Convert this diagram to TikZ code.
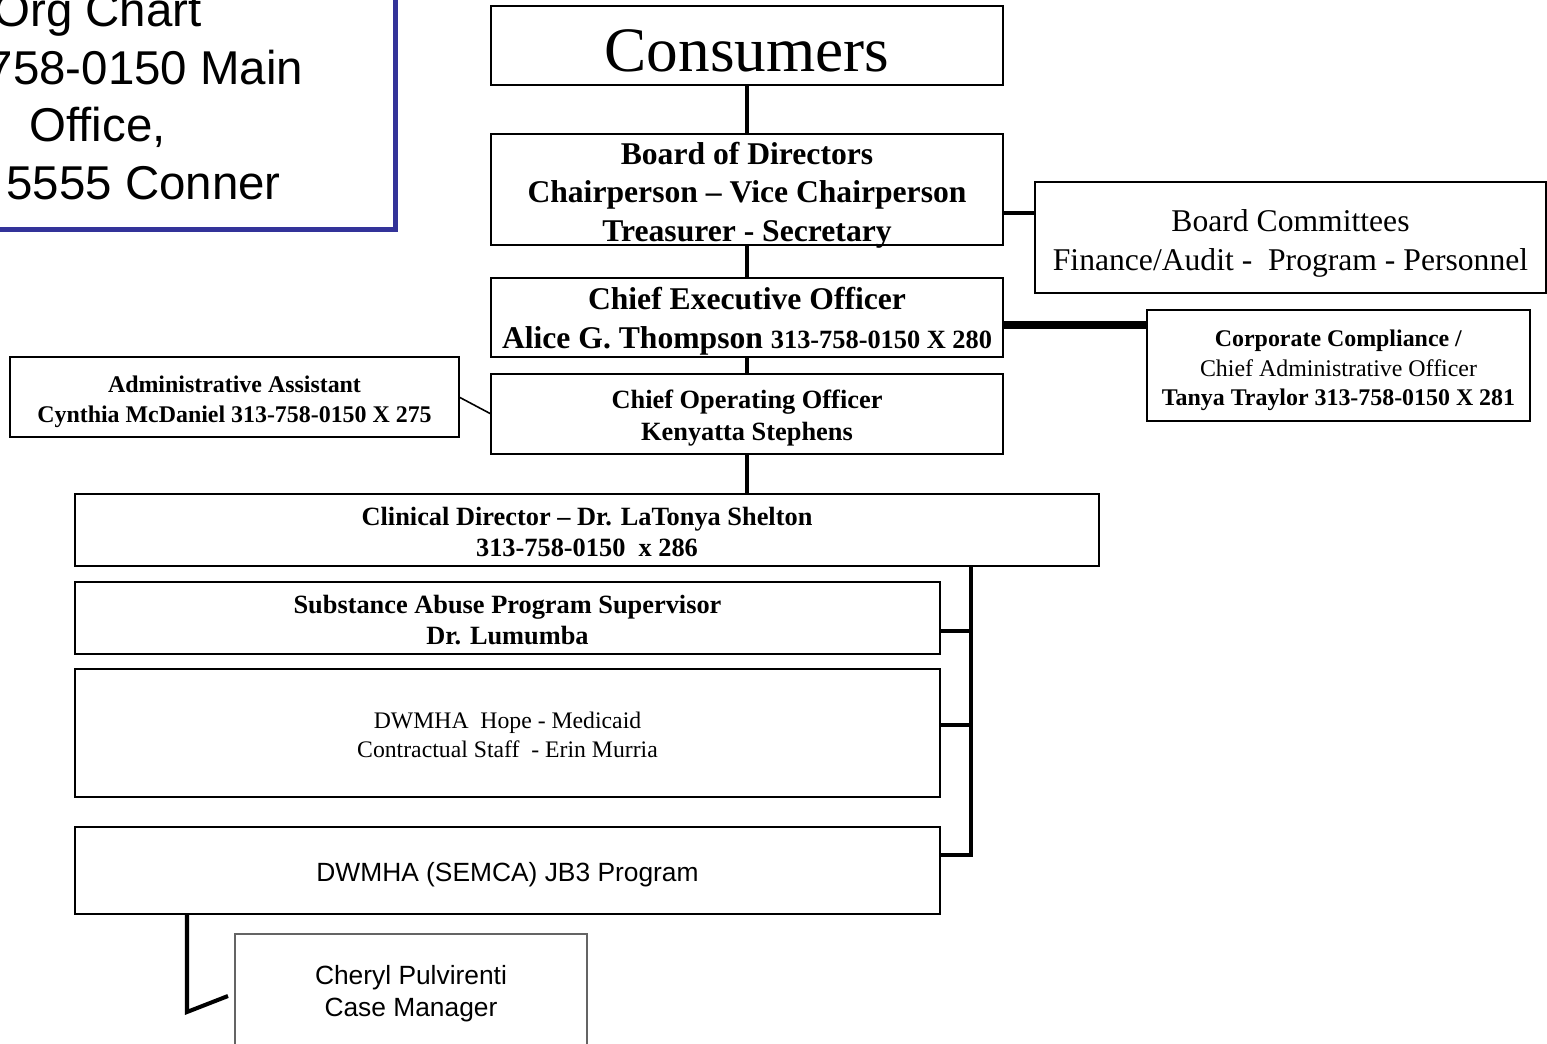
\documentclass[tikz,border=0pt]{standalone}
\usepackage{fontspec}
\setmainfont{Liberation Serif}
\newfontfamily\arialfont{Liberation Sans}
\usepackage{tikz}
\usetikzlibrary{positioning}
\usepackage{xcolor}
\definecolor{ocBlue}{RGB}{51, 51, 153}
\definecolor{ocGrey}{RGB}{100, 100, 100}
\newcommand{\lift}[1]{\rule{0pt}{#1}}

\begin{document}
\begin{tikzpicture}[
    node distance=0.3cm,
    orgbox/.style={
        rectangle,
        minimum width=8.51cm,
        minimum height=5.19cm,
        draw=ocBlue,
        line width=0.1cm
    },
    orgtext/.style={
        anchor=base west,
        inner sep=0pt,
        font=\arialfont\fontsize{27}{33}\selectfont
    },
    titlebox/.style={
        rectangle,
        minimum width=10.24cm,
        inner sep=1pt,
        outer sep=0pt,
        draw=black,
        fill=white,
        line width=1.2pt,
        font=\fontsize{36}{40}\selectfont,
        execute at begin node={\lift{0.82em}}
    },
    topbox/.style={
        rectangle,
        minimum width=10.24cm,
        inner sep=1pt,
        outer sep=0pt,
        text depth=0pt,
        align=center,
        draw=black,
        fill=white,
        line width=1.2pt,
        font=\bfseries\fontsize{18}{21.9}\selectfont
    },
    sidebox/.style={
        rectangle,
        inner sep=1pt,
        outer sep=0pt,
        text depth=0pt,
        align=center,
        draw=black,
        fill=white,
        line width=1.2pt,
        font=\fontsize{18}{21.9}\selectfont
    },
    smallbox/.style={
        rectangle,
        inner sep=1pt,
        outer sep=0pt,
        text depth=0pt,
        align=center,
        draw=black,
        fill=white,
        line width=1.2pt,
        font=\fontsize{13.6}{16.6}\selectfont
    },
    unitbox/.style={
        rectangle,
        inner sep=1pt,
        outer sep=0pt,
        text depth=0pt,
        align=center,
        draw=black,
        fill=white,
        line width=1.2pt,
        font=\bfseries\fontsize{15}{17.9}\selectfont
    },
    staffbox/.style={
        rectangle,
        inner sep=1pt,
        outer sep=0pt,
        text depth=0pt,
        align=center,
        draw=ocGrey,
        fill=white,
        line width=0.9pt,
        font=\arialfont\fontsize{15}{18.3}\selectfont
    },
    trunk/.style={line width=2.6pt},
    branch/.style={line width=2.3pt},
    heavy/.style={line width=4pt},
    fine/.style={line width=0.9pt}
]

\useasboundingbox (0,0) rectangle (30.94,-20.88);

% Address box, top left
\node[orgbox] (orgchart) at (3.655,-1.995) {};
\node[orgtext] (orgtitle) at (-0.14,-0.54) {Org Chart};
\node[orgtext] (orgphone) at (-0.27,-1.70) {758-0150 Main};
\node[orgtext] (orgoffice) at (0.58,-2.84) {Office,};
\node[orgtext] (orgstreet) at (0.12,-4.00) {5555 Conner};

% Main column
\node[titlebox, minimum height=1.58cm] (consumers) at (14.94,-0.91) {Consumers};

\node[topbox, minimum height=2.22cm, below=0.98cm of consumers] (board) {
    \lift{0.85em}Board of Directors\\
    Chairperson – Vice Chairperson\\
    Treasurer - Secretary
};

\node[topbox, minimum height=1.58cm, below=0.66cm of board] (ceo) {
    \lift{0.73em}Chief Executive Officer\\
    Alice G. Thompson {\fontsize{15}{18}\selectfont 313-758-0150 X 280}
};

\node[topbox, minimum height=1.6cm, below=0.34cm of ceo, font=\bfseries\fontsize{15}{18.2}\selectfont] (coo) {
    \lift{0.78em}Chief Operating Officer\\
    Kenyatta Stephens
};

% Side boxes
\node[sidebox, minimum width=10.22cm, minimum height=2.22cm, right=0.64cm of board, yshift=-0.96cm] (committees) {
    \lift{0.85em}Board Committees\\
    Finance/Audit -~ Program - Personnel
};

\node[smallbox, minimum width=7.66cm, minimum height=2.22cm, right=2.88cm of ceo, yshift=-0.96cm] (compliance) {
    \lift{0.89em}\textbf{Corporate Compliance /}\\
    Chief Administrative Officer\\
    \textbf{Tanya Traylor 313-758-0150 X 281}
};

\node[smallbox, minimum width=8.98cm, minimum height=1.6cm, left=0.64cm of coo, yshift=0.34cm, font=\bfseries\fontsize{13.6}{17.2}\selectfont] (admin) {
    \lift{0.89em}Administrative Assistant\\
    Cynthia McDaniel 313-758-0150 X 275
};

% Clinical column
\node[unitbox, minimum width=20.48cm, minimum height=1.44cm, below=0.8cm of coo, xshift=-3.2cm] (clinical) {
    \lift{0.84em}Clinical Director – Dr. LaTonya Shelton\\
    313-758-0150~ x 286
};

\node[unitbox, minimum width=17.3cm, minimum height=1.44cm, below=0.32cm of clinical, xshift=-1.59cm] (substance) {
    \lift{0.84em}Substance Abuse Program Supervisor\\
    Dr. Lumumba
};

\node[unitbox, minimum width=17.3cm, minimum height=2.56cm, below=0.3cm of substance, font=\fontsize{13.5}{16.5}\selectfont] (dwmha) {
    \lift{0.85em}DWMHA~ Hope - Medicaid\\
    Contractual Staff~ - Erin Murria
};

\node[unitbox, minimum width=17.3cm, minimum height=1.74cm, below=0.6cm of dwmha, font=\arialfont\fontsize{15}{18}\selectfont] (jb3) {\lift{0.85em}DWMHA (SEMCA) JB3 Program};

\node[staffbox, minimum width=7.04cm, minimum height=2.28cm, below=0.4cm of jb3, xshift=-1.93cm] (cheryl) {
    Cheryl Pulvirenti\\
    Case Manager
};

% Connectors
\draw[trunk] (consumers.south) -- (board.north);
\draw[trunk] (board.south) -- (ceo.north);
\draw[trunk] (ceo.south) -- (coo.north);
\draw[trunk] (coo.south) -- (coo.south |- clinical.north);
\draw[branch] ([yshift=-0.47cm]board.east) -- ([yshift=-0.47cm]board.east -| committees.west);
\draw[heavy] ([yshift=-0.15cm]ceo.east) -- ([yshift=-0.15cm]ceo.east -| compliance.west);
\draw[fine] (admin.east) -- (coo.west);

\coordinate (bus) at ([xshift=0.62cm]substance.east);
\draw[branch] (clinical.south -| bus) |- ([yshift=0.31cm]jb3.east);
\draw[branch] ([yshift=-0.26cm]substance.east) -- ([yshift=-0.26cm]substance.east -| bus);
\draw[branch] ([yshift=0.16cm]dwmha.east) -- ([yshift=0.16cm]dwmha.east -| bus);

\coordinate (caseelbow) at ([xshift=2.24cm, yshift=-1.96cm]jb3.south west);
\draw[branch] ([xshift=2.24cm]jb3.south west) -- (caseelbow) -- ([xshift=-0.14cm, yshift=-0.1cm]cheryl.west);

\end{tikzpicture}
\end{document}
